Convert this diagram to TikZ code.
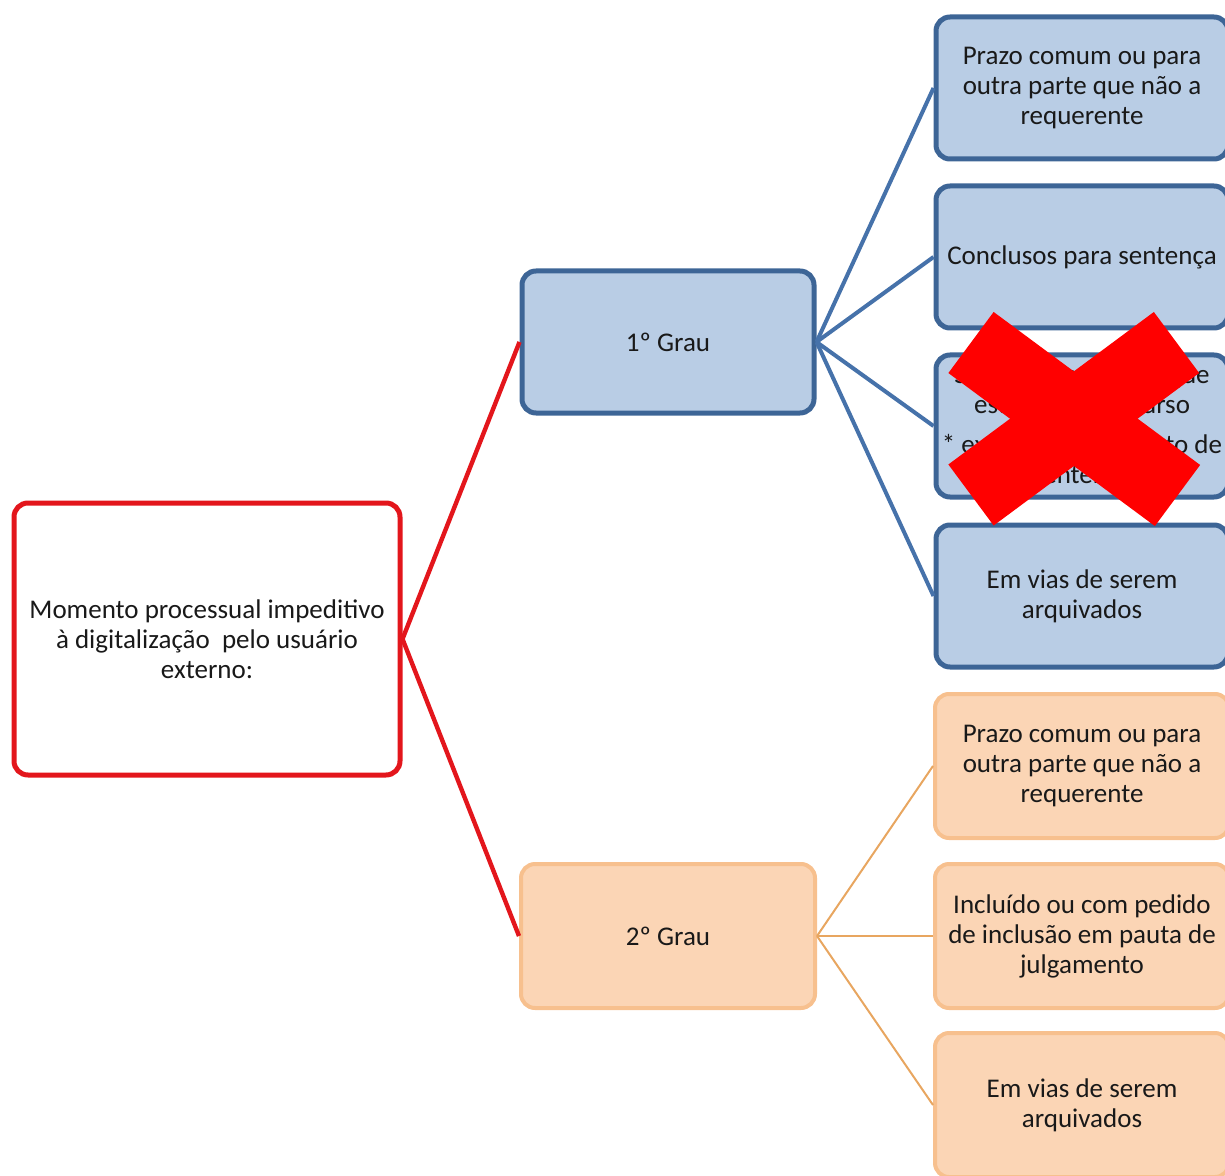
\documentclass[tikz,border=0pt]{standalone}
\usepackage{fontspec}
\setmainfont{Carlito}
\usepackage{xcolor}
\definecolor{rootred}{HTML}{E3161C}
\definecolor{bluefill}{HTML}{B9CDE5}
\definecolor{blueborder}{HTML}{3D6596}
\definecolor{blueline}{HTML}{4672AA}
\definecolor{orangefill}{HTML}{FBD5B5}
\definecolor{orangeborder}{HTML}{F7C08E}
\definecolor{orangeline}{HTML}{E8A660}
\definecolor{crossred}{HTML}{FF0000}

\begin{document}
\begin{tikzpicture}[x=0.5pt,y=-0.5pt,
  box/.style={rectangle,rounded corners=7pt,align=center,inner sep=2pt,
    font=\fontsize{13.5}{15}\selectfont,text=black!90},
  rootbox/.style={box,draw=rootred,line width=2.5pt,fill=white,
    minimum width=193pt,minimum height=136pt},
  bluebox/.style={box,draw=blueborder,fill=bluefill,line width=2.5pt,
    minimum width=146pt,minimum height=71pt},
  orangebox/.style={box,draw=orangeborder,fill=orangefill,line width=2pt,
    minimum width=147pt,minimum height=72pt},
  redlink/.style={draw=rootred,line width=2.2pt},
  bluelink/.style={draw=blueline,line width=2pt},
  orangelink/.style={draw=orangeline,line width=1pt},
  crossbar/.style={draw=crossred,line width=38pt}]
\useasboundingbox (0,0) rectangle (1225,1176);

% root and the two levels
\node[rootbox] (root) at (207,639) {Momento processual impeditivo\\à digitalização\ \ pelo usuário\\externo:};
\node[bluebox] (grau1) at (668,342) {1º Grau};
\node[orangebox] (grau2) at (668,936) {2º Grau};

% 1o grau
\node[bluebox] (prazo1) at (1082,88) {Prazo comum ou para\\outra parte que não a\\requerente};
\node[bluebox] (conclusos) at (1082,257) {Conclusos para sentença};
\node[bluebox] (sobrestados) at (1082,426) {Sobrestados, ainda que\\estejam em recurso\\[5pt]* exceto cumprimento de\\sentença};
\node[bluebox] (arquivo1) at (1082,596) {Em vias de serem\\arquivados};

% 2o grau
\node[orangebox] (prazo2) at (1082,766) {Prazo comum ou para\\outra parte que não a\\requerente};
\node[orangebox] (pauta) at (1082,936) {Incluído ou com pedido\\de inclusão em pauta de\\julgamento};
\node[orangebox] (arquivo2) at (1082,1105) {Em vias de serem\\arquivados};

\draw[redlink] (root.east) -- (grau1.west);
\draw[redlink] (root.east) -- (grau2.west);

\draw[bluelink] (grau1.east) -- (prazo1.west);
\draw[bluelink] (grau1.east) -- (conclusos.west);
\draw[bluelink] (grau1.east) -- (sobrestados.west);
\draw[bluelink] (grau1.east) -- (arquivo1.west);

\draw[orangelink] (grau2.east) -- (prazo2.west);
\draw[orangelink] (grau2.east) -- (pauta.west);
\draw[orangelink] (grau2.east) -- (arquivo2.west);

% the cross
\draw[crossbar] (971,342.5) -- (1177.5,495.5);
\draw[crossbar] (1176.5,342.5) -- (971,495);
\end{tikzpicture}
\end{document}
